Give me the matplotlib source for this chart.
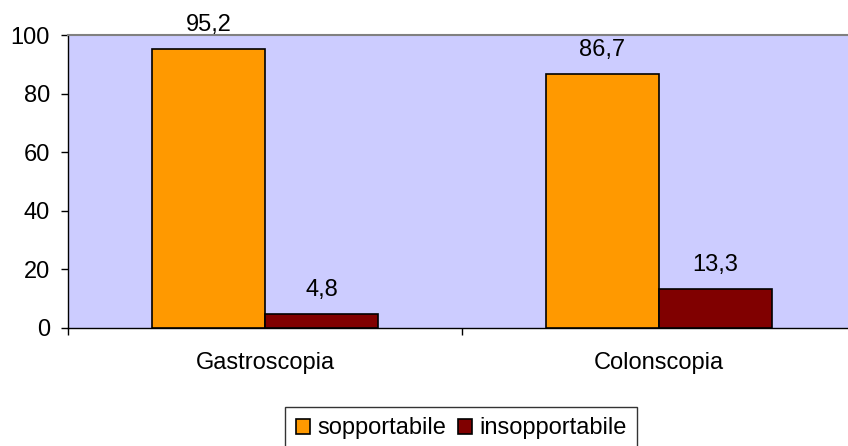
import matplotlib
matplotlib.use("Agg")
import matplotlib.pyplot as plt
import numpy as np

categories = ["Gastroscopia", "Colonscopia"]
sopportabile = [95.2, 86.7]
insopportabile = [4.8, 13.3]
value_labels_s = ["95,2", "86,7"]
value_labels_i = ["4,8", "13,3"]
y_ticks = [0, 20, 40, 60, 80, 100]

plt.rcParams["font.family"] = ["Liberation Sans", "DejaVu Sans"]
FS = 17

fig = plt.figure(figsize=(8.48, 4.46), dpi=100)
ax = fig.add_axes([68 / 848, 1 - 328 / 446, 788 / 848, 293 / 446])
ax.set_facecolor("#CCCCFF")

x = np.arange(len(categories))
w = 0.287
b1 = ax.bar(x - w / 2, sopportabile, w, color="#FF9900", edgecolor="black",
            linewidth=1.2, label="sopportabile", zorder=3)
b2 = ax.bar(x + w / 2, insopportabile, w, color="#800000", edgecolor="black",
            linewidth=1.2, label="insopportabile", zorder=3)

for bars, labels in ((b1, value_labels_s), (b2, value_labels_i)):
    for rect, txt in zip(bars, labels):
        ax.annotate(txt, (rect.get_x() + rect.get_width() / 2, rect.get_height()),
                    xytext=(0, 13), textcoords="offset pixels",
                    ha="center", va="bottom", fontsize=FS)

ax.set_xlim(-0.5, 1.5)
ax.set_ylim(0, 100)
ax.set_yticks(y_ticks)
ax.set_yticklabels([str(v) for v in y_ticks], fontsize=FS)
ax.set_xticks([-0.5, 0.5, 1.5])
ax.set_xticklabels([])
ax.set_xticks(x, minor=True)
ax.set_xticklabels(categories, minor=True, fontsize=FS)
ax.tick_params(axis="x", which="minor", length=0, pad=17)
ax.tick_params(axis="x", which="major", length=5, width=1, color="black")
ax.tick_params(axis="y", length=5, width=1, color="black", pad=8)

for side in ("top", "right"):
    ax.spines[side].set_color("#808080")
    ax.spines[side].set_linewidth(1.5)
for side in ("left", "bottom"):
    ax.spines[side].set_color("black")
    ax.spines[side].set_linewidth(1)

leg = fig.legend(handles=[b1, b2], loc="lower center", bbox_to_anchor=(461 / 848, -0.025),
                 ncol=2, fontsize=FS, frameon=True, fancybox=False,
                 handlelength=0.6, handleheight=0.6, handletextpad=0.3,
                 columnspacing=0.5, borderpad=0.45, borderaxespad=0.3)
leg.get_frame().set_edgecolor("black")
leg.get_frame().set_linewidth(1)

fig.savefig("out.png", dpi=100)
